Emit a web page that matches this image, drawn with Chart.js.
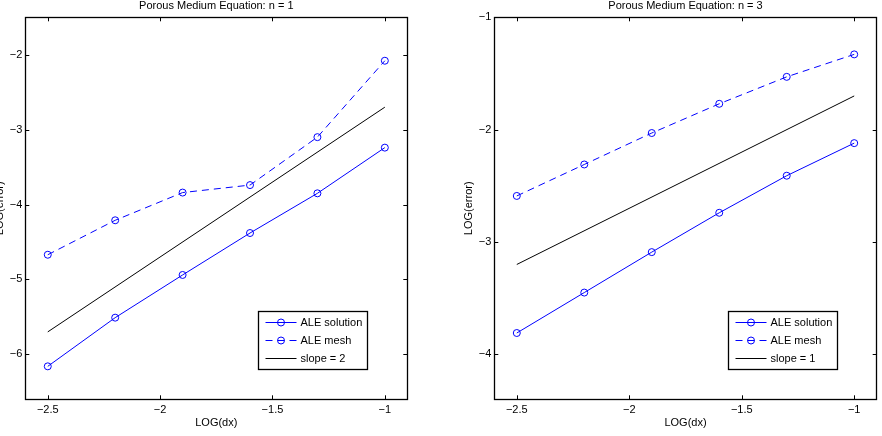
<!DOCTYPE html>
<html>
<head>
<meta charset="utf-8">
<script src="https://cdn.jsdelivr.net/npm/chart.js@4.4.1/dist/chart.umd.min.js"></script>
<style>
  html, body { margin: 0; padding: 0; background: #fff; overflow: hidden; }
  #wrap { position: relative; width: 882px; height: 436px; overflow: hidden; }
  .pane { position: absolute; top: 0; height: 436px; }
</style>
</head>
<body>
<div id="wrap">
  <div class="pane" style="left:-28px;width:469px"><canvas id="c1" width="469" height="436"></canvas></div>
  <div class="pane" style="left:441px;width:441px"><canvas id="c2" width="441" height="436"></canvas></div>
</div>
<script>
const logDx = [-2.5, -2.2, -1.9, -1.6, -1.3, -1.0];
const slopeDx = [-2.5, -1.0];

const solutionN1 = [-6.16, -5.51, -4.94, -4.38, -3.85, -3.24];
const meshN1 = [-4.67, -4.21, -3.84, -3.74, -3.10, -2.08];
const slopeN1 = [-5.7, -2.7];

const solutionN3 = [-3.81, -3.45, -3.09, -2.74, -2.41, -2.12];
const meshN3 = [-2.59, -2.31, -2.03, -1.77, -1.53, -1.33];
const slopeN3 = [-3.2, -1.7];

const xTicks = [-2.5, -2, -1.5, -1];
const yTicksN1 = [-6, -5, -4, -3, -2];
const yTicksN3 = [-4, -3, -2, -1];

const FONT = 'Liberation Sans, Arial, Helvetica, sans-serif';
const BLUE = '#0000ff';

const toXY = (xs, ys) => xs.map((x, i) => ({ x: x, y: ys[i] }));
const fmt = v => String(v).replace('-', '\u2212');

// box, inward ticks, title and legend in the MATLAB style
const matlabAxes = {
  id: 'matlabAxes',
  afterDraw(chart, args, opts) {
    const ctx = chart.ctx;
    const a = chart.chartArea;
    const xs = chart.scales.x, ys = chart.scales.y;
    ctx.save();
    ctx.strokeStyle = '#000';
    ctx.lineWidth = 1;
    ctx.beginPath();
    xs.ticks.forEach(t => {
      const px = Math.round(xs.getPixelForValue(t.value)) + 0.5;
      ctx.moveTo(px, a.bottom); ctx.lineTo(px, a.bottom - 4);
      ctx.moveTo(px, a.top); ctx.lineTo(px, a.top + 4);
    });
    ys.ticks.forEach(t => {
      const py = Math.round(ys.getPixelForValue(t.value)) + 0.5;
      ctx.moveTo(a.left, py); ctx.lineTo(a.left + 4, py);
      ctx.moveTo(a.right, py); ctx.lineTo(a.right - 4, py);
    });
    ctx.stroke();
    ctx.lineWidth = 1.3;
    ctx.strokeRect(Math.round(a.left) + 0.5, Math.round(a.top) + 0.5,
      Math.round(a.right - a.left), Math.round(a.bottom - a.top));

    // title
    ctx.fillStyle = '#000';
    ctx.font = '11px ' + FONT;
    ctx.textAlign = 'center';
    ctx.textBaseline = 'middle';
    ctx.fillText(opts.title, (a.left + a.right) / 2, 6);

    // legend
    const w = 109, h = 58;
    const bx = Math.round(a.right - 40 - w) + 0.5;
    const by = Math.round(a.bottom - 30 - h) + 0.5;
    ctx.fillStyle = '#fff';
    ctx.fillRect(bx, by, w, h);
    ctx.lineWidth = 1.3;
    ctx.strokeStyle = '#000';
    ctx.strokeRect(bx, by, w, h);
    chart.data.datasets.forEach((ds, i) => {
      const cy = by + 11 + i * 18;
      ctx.strokeStyle = ds.borderColor;
      ctx.lineWidth = 1;
      ctx.setLineDash(ds.borderDash || []);
      ctx.beginPath();
      ctx.moveTo(bx + 7, cy); ctx.lineTo(bx + 38, cy);
      ctx.stroke();
      ctx.setLineDash([]);
      if (ds.pointRadius > 0) {
        ctx.beginPath();
        ctx.arc(bx + 22.5, cy, ds.pointRadius, 0, Math.PI * 2);
        ctx.stroke();
      }
      ctx.fillStyle = '#000';
      ctx.textAlign = 'left';
      ctx.textBaseline = 'middle';
      ctx.fillText(ds.label, bx + 42, cy);
    });
    ctx.restore();
  }
};

function makeChart(id, title, solution, mesh, slope, slopeLabel, yMin, yMax, yTicks, padRight) {
  return new Chart(document.getElementById(id), {
    type: 'scatter',
    data: {
      datasets: [
        { label: 'ALE solution', data: toXY(logDx, solution), showLine: true,
          borderColor: BLUE, borderWidth: 1, pointRadius: 3.5, pointBorderWidth: 1,
          pointBorderColor: BLUE, pointBackgroundColor: 'rgba(0,0,0,0)' },
        { label: 'ALE mesh', data: toXY(logDx, mesh), showLine: true, borderDash: [7, 5],
          borderColor: BLUE, borderWidth: 1, pointRadius: 3.5, pointBorderWidth: 1,
          pointBorderColor: BLUE, pointBackgroundColor: 'rgba(0,0,0,0)' },
        { label: slopeLabel, data: toXY(slopeDx, slope), showLine: true,
          borderColor: '#000', borderWidth: 1, pointRadius: 0 }
      ]
    },
    options: {
      responsive: false,
      animation: false,
      layout: { padding: { top: 17.3, right: padRight, bottom: 0, left: 0 } },
      plugins: {
        legend: { display: false },
        tooltip: { enabled: false },
        matlabAxes: { title: title }
      },
      scales: {
        x: {
          type: 'linear', min: -2.6, max: -0.9,
          afterBuildTicks: s => { s.ticks = xTicks.map(v => ({ value: v })); },
          afterFit: s => { s.height = 36.7; },
          grid: { display: false, drawTicks: false },
          border: { display: false },
          ticks: { color: '#000', font: { family: FONT, size: 11 }, padding: 4,
                   maxRotation: 0, autoSkip: false, callback: fmt },
          title: { display: true, text: 'LOG(dx)', color: '#000',
                   font: { family: FONT, size: 11 }, padding: { top: 0, bottom: 6.7 } }
        },
        y: {
          type: 'linear', min: yMin, max: yMax,
          afterBuildTicks: s => { s.ticks = yTicks.map(v => ({ value: v })); },
          afterFit: s => { s.width = 53.3; },
          grid: { display: false, drawTicks: false },
          border: { display: false },
          ticks: { color: '#000', font: { family: FONT, size: 11 }, padding: 3,
                   autoSkip: false, callback: fmt },
          title: { display: true, text: 'LOG(error)', color: '#000',
                   font: { family: FONT, size: 11 }, padding: { top: 21.4, bottom: 0 } }
        }
      }
    },
    plugins: [matlabAxes]
  });
}

makeChart('c1', 'Porous Medium Equation: n = 1', solutionN1, meshN1, slopeN1, 'slope = 2',
  -6.6, -1.5, yTicksN1, 33.7);
makeChart('c2', 'Porous Medium Equation: n = 3', solutionN3, meshN3, slopeN3, 'slope = 1',
  -4.4, -1, yTicksN3, 5.3);
</script>
</body>
</html>
